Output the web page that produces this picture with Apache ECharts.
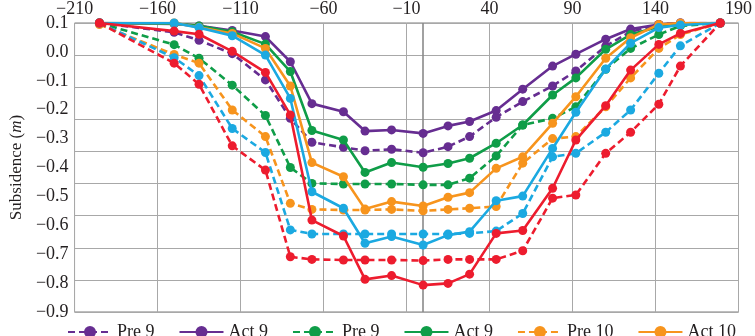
<!DOCTYPE html>
<html>
<head>
<meta charset="utf-8">
<script src="https://cdn.jsdelivr.net/npm/echarts@6/dist/echarts.min.js"></script>
<style>
  html, body { margin: 0; padding: 0; background: #fff; }
  #chart { width: 755px; height: 336px; }
</style>
</head>
<body>
<div id="chart"></div>
<script>
// distance from the centre line (x) and subsidence in metres (y)
const distances = [-195, -150, -135, -115, -95, -80, -67, -48, -35, -19, 0, 15, 28, 44, 60, 78, 92, 110, 125, 142, 155, 179];

const pre9a = [0.1, 0.068, 0.04, -0.006, -0.097, -0.23, -0.313, -0.33, -0.342, -0.337, -0.349, -0.328, -0.293, -0.226, -0.172, -0.118, -0.066, 0.02, 0.07, 0.095, 0.1, 0.1];
const act9a = [0.1, 0.097, 0.09, 0.074, 0.053, -0.034, -0.179, -0.207, -0.274, -0.27, -0.282, -0.256, -0.241, -0.203, -0.129, -0.049, -0.008, 0.044, 0.079, 0.095, 0.1, 0.1];
const pre9b = [0.1, 0.025, -0.022, -0.115, -0.22, -0.4, -0.455, -0.457, -0.457, -0.457, -0.46, -0.46, -0.437, -0.36, -0.253, -0.23, -0.19, -0.06, 0.012, 0.06, 0.09, 0.1];
const act9b = [0.1, 0.098, 0.09, 0.07, 0.027, -0.068, -0.272, -0.305, -0.417, -0.383, -0.399, -0.386, -0.368, -0.316, -0.253, -0.149, -0.09, 0.009, 0.06, 0.087, 0.095, 0.1];
const pre10a = [0.095, -0.009, -0.039, -0.201, -0.293, -0.524, -0.545, -0.547, -0.547, -0.545, -0.55, -0.545, -0.541, -0.535, -0.385, -0.3, -0.293, -0.19, -0.09, 0.012, 0.06, 0.1];
const act10a = [0.1, 0.1, 0.085, 0.064, 0.012, -0.118, -0.383, -0.432, -0.544, -0.518, -0.533, -0.503, -0.487, -0.403, -0.363, -0.247, -0.155, -0.022, 0.049, 0.095, 0.1, 0.1];
const pre10b = [0.1, -0.02, -0.082, -0.265, -0.348, -0.616, -0.63, -0.63, -0.63, -0.63, -0.63, -0.63, -0.628, -0.62, -0.559, -0.363, -0.351, -0.278, -0.201, -0.074, 0.021, 0.1];
const act10b = [0.1, 0.1, 0.084, 0.056, -0.011, -0.161, -0.484, -0.541, -0.662, -0.639, -0.668, -0.634, -0.622, -0.515, -0.499, -0.334, -0.209, -0.059, 0.03, 0.084, 0.093, 0.1];
const pre11 = [0.1, -0.039, -0.112, -0.325, -0.409, -0.709, -0.718, -0.72, -0.72, -0.72, -0.722, -0.718, -0.718, -0.718, -0.688, -0.506, -0.495, -0.351, -0.278, -0.181, -0.049, 0.1];
const act11 = [0.1, 0.072, 0.061, 0.002, -0.071, -0.218, -0.582, -0.637, -0.787, -0.774, -0.807, -0.801, -0.769, -0.628, -0.618, -0.472, -0.305, -0.186, -0.063, 0.026, 0.064, 0.1];

const legendLabels = ['Pre 9', 'Act 9', 'Pre 9', 'Act 9', 'Pre 10', 'Act 10'];

const lines = [
  { id: 's0', values: pre9a, color: '#662d91', dashed: true },
  { id: 's1', values: act9a, color: '#662d91', dashed: false },
  { id: 's2', values: pre9b, color: '#0f9d48', dashed: true },
  { id: 's3', values: act9b, color: '#0f9d48', dashed: false },
  { id: 's4', values: pre10a, color: '#f7941d', dashed: true },
  { id: 's5', values: act10a, color: '#f7941d', dashed: false },
  { id: 's6', values: pre10b, color: '#1ba9e1', dashed: true },
  { id: 's7', values: act10b, color: '#1ba9e1', dashed: false },
  { id: 's8', values: pre11, color: '#ed1c2e', dashed: true },
  { id: 's9', values: act11, color: '#ed1c2e', dashed: false }
];

const font = '"Liberation Serif", "DejaVu Serif", serif';
const minus = s => String(s).replace('-', '\u2212');

const chart = echarts.init(document.getElementById('chart'), null, { renderer: 'canvas' });

const series = lines.map((l, i) => ({
  name: l.id,
  type: 'line',
  yAxisIndex: 0,
  data: distances.map((d, k) => [d, l.values[k]]),
  symbol: 'circle',
  symbolSize: 9,
  color: l.color,
  lineStyle: { width: 2.6, color: l.color, type: l.dashed ? [7, 4] : 'solid' },
  itemStyle: { color: l.color },
  z: 3 + i,
  animation: false,
  markLine: i === 0 ? {
    silent: true,
    symbol: 'none',
    label: { show: false },
    lineStyle: { color: '#8a8a8a', width: 1.6, type: 'solid' },
    data: [{ xAxis: 0 }],
    z: 1
  } : undefined
}));

const option = {
  animation: false,
  grid: {
    left: 64, right: 13, top: 23, bottom: 24,
    show: true, borderColor: '#7d7d7d', borderWidth: 1
  },
  legend: {
    data: lines.slice(0, 6).map(l => l.id),
    formatter: name => legendLabels[lines.findIndex(l => l.id === name)],
    left: 62, top: 318,
    itemWidth: 44, itemHeight: 15, itemGap: 24,
    textStyle: { fontFamily: font, fontSize: 18, color: '#231f20' }
  },
  xAxis: {
    type: 'value',
    position: 'top',
    min: -210, max: 190, interval: 50,
    axisLine: { show: false },
    axisTick: { show: false },
    axisLabel: {
      margin: 5,
      fontFamily: font, fontSize: 18, color: '#231f20',
      formatter: v => minus(v)
    },
    splitLine: { show: true, lineStyle: { color: '#a8a8a8', width: 1 } }
  },
  yAxis: [{
    type: 'value',
    min: -0.9, max: 0.1, interval: 0.1,
    name: 'Subsidence ({i|m})',
    nameLocation: 'middle',
    nameGap: 46,
    nameTextStyle: {
      fontFamily: font, fontSize: 17, color: '#231f20',
      rich: { i: { fontFamily: font, fontSize: 17, fontStyle: 'italic', color: '#231f20' } }
    },
    axisLine: { show: false },
    axisTick: { show: false },
    splitLine: { show: false },
    axisLabel: {
      margin: 6,
      fontFamily: font, fontSize: 18, color: '#231f20',
      formatter: v => { const s = (Math.abs(v) < 1e-9 ? 0 : v).toFixed(1); return minus(s); }
    }
  }, {
    // horizontal grid lines of the original figure (nine bands)
    type: 'value',
    min: 0, max: 9, interval: 1,
    axisLine: { show: false },
    axisTick: { show: false },
    axisLabel: { show: false },
    splitLine: { show: true, lineStyle: { color: '#a8a8a8', width: 1 } }
  }],
  series: series
};

chart.setOption(option);
</script>
</body>
</html>
